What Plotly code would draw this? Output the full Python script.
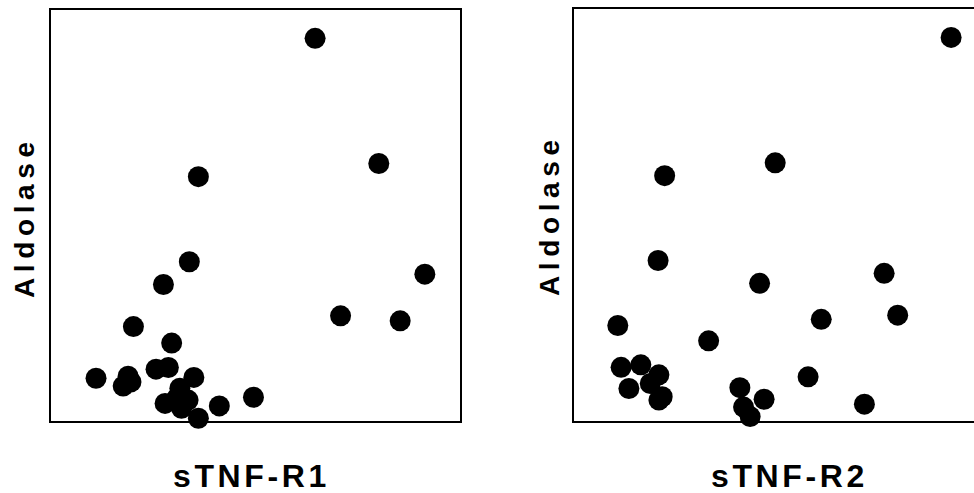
import plotly.graph_objects as go

# Panel 1: sTNF-R1 vs Aldolase (relative units, 0-100 of the axis box)
r1_x = [64.5, 80.0, 36.1, 33.9, 91.2, 27.6, 70.7, 85.2, 20.3, 29.6, 11.2, 19.0, 19.7,
        17.8, 25.8, 28.8, 35.0, 31.6, 33.6, 30.8, 28.0, 32.0, 36.1, 41.2, 49.5]
r1_y = [92.9, 62.6, 59.4, 38.8, 35.8, 33.3, 25.7, 24.5, 23.1, 19.1, 10.6, 11.1, 9.7,
        8.7, 12.8, 13.2, 10.8, 8.2, 5.3, 5.7, 4.5, 3.3, 0.9, 3.9, 6.0]

# Panel 2: sTNF-R2 vs Aldolase
r2_x = [92.0, 49.2, 22.3, 20.7, 75.7, 45.4, 79.0, 60.4, 10.9, 33.0, 57.2, 46.5, 70.9,
        40.6, 41.5, 43.1, 11.7, 16.5, 13.6, 20.9, 18.8, 21.7, 20.9]
r2_y = [92.9, 62.6, 59.5, 39.0, 35.9, 33.5, 25.8, 24.8, 23.3, 19.6, 10.9, 5.5, 4.3,
        8.3, 3.6, 1.3, 13.2, 13.8, 8.1, 11.4, 9.3, 6.1, 5.3]

x_titles = ["sTNF-R1", "sTNF-R2"]
y_title = "Aldolase"

W, H = 974, 493
FONT = "Liberation Sans, Arial, Helvetica, sans-serif"

fig = go.Figure()
marker = dict(color="black", size=21, line=dict(width=0))
fig.add_trace(go.Scatter(x=r1_x, y=r1_y, mode="markers", marker=marker,
                         xaxis="x", yaxis="y", cliponaxis=False, showlegend=False))
fig.add_trace(go.Scatter(x=r2_x, y=r2_y, mode="markers", marker=marker,
                         xaxis="x2", yaxis="y2", cliponaxis=False, showlegend=False))

# pixel geometry of the boxes
L1, R1, T1, B1 = 50, 461, 9, 422
L2, R2, T2, B2 = 573, 984, 8, 422

def px(v):
    return v / W

def py(v):
    return (H - v) / H

ax_common = dict(showgrid=False, zeroline=False, showticklabels=False, ticks="",
                 showline=False, fixedrange=True)

fig.update_layout(
    width=W, height=H,
    margin=dict(l=0, r=0, t=0, b=0),
    paper_bgcolor="white", plot_bgcolor="white",
    xaxis=dict(domain=[px(L1), px(R1)], range=[0, 100], **ax_common),
    yaxis=dict(domain=[py(B1), py(T1)], range=[0, 100], **ax_common),
    xaxis2=dict(domain=[px(L2), 1.0], range=[0, (W - L2) / (R2 - L2) * 100],
                anchor="y2", **ax_common),
    yaxis2=dict(domain=[py(B2), py(T2)], range=[0, 100], anchor="x2", **ax_common),
    shapes=[
        dict(type="rect", xref="paper", yref="paper", x0=px(L1), x1=px(R1),
             y0=py(B1), y1=py(T1), line=dict(color="black", width=2), layer="below"),
        dict(type="rect", xref="paper", yref="paper", x0=px(L2), x1=px(R2),
             y0=py(B2), y1=py(T2), line=dict(color="black", width=2), layer="below"),
    ],
)

def spaced_text(s, gap_px):
    sep = '<span style="font-size:%dpx">\u2009</span>' % gap_px
    return sep.join(list(s))

label_font = dict(family=FONT, color="black", weight="bold")
for cx, cy in [(24, 220), (549, 218)]:
    fig.add_annotation(x=px(cx), y=py(cy), xref="paper", yref="paper",
                       text=spaced_text(y_title, 28),
                       textangle=-90, showarrow=False, xanchor="center", yanchor="middle",
                       font=dict(size=28, **label_font))
for cx, txt in [(250, x_titles[0]), (787, x_titles[1])]:
    fig.add_annotation(x=px(cx), y=0, xref="paper", yref="paper", text=spaced_text(txt, 18),
                       showarrow=False, xanchor="center", yanchor="bottom", yshift=-3,
                       font=dict(size=32, **label_font))

fig.write_html("out.html", config={"displayModeBar": False},
               post_script="document.body.style.margin='0';document.body.style.overflow='hidden';")
